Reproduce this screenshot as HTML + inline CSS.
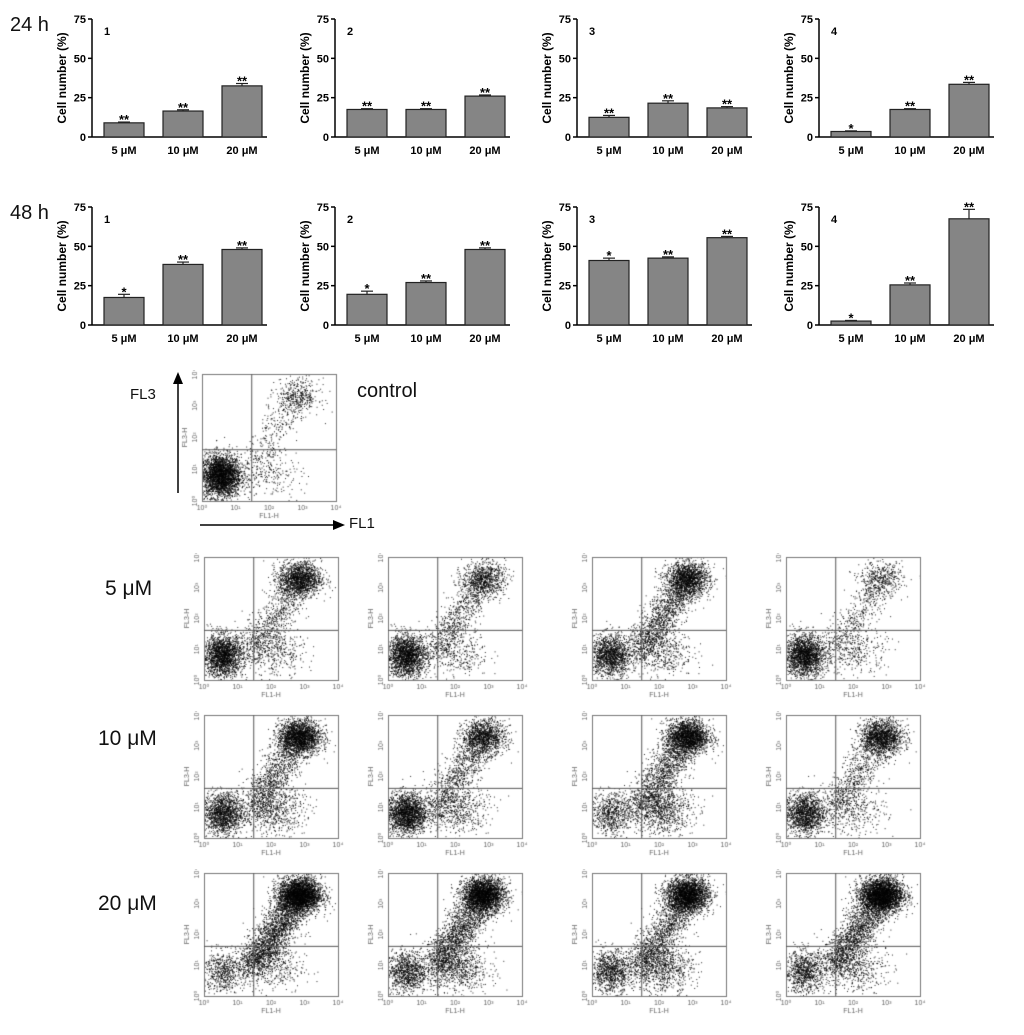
<!DOCTYPE html>
<html><head><meta charset="utf-8">
<style>
body{margin:0;background:#fff;font-family:"Liberation Sans",sans-serif;}
#wrap{position:relative;width:1024px;height:1035px;overflow:hidden;}
.lbl{position:absolute;font-size:20px;color:#111;}
canvas{position:absolute;}
</style></head>
<body>
<div id="wrap">
<svg id="bars" width="1024" height="350" style="position:absolute;left:0;top:0"></svg>
<div class="lbl" style="left:10px;top:14px">24 h</div>
<div class="lbl" style="left:10px;top:202px">48 h</div>
<div class="lbl" style="left:357px;top:380px">control</div>
<div class="lbl" style="left:130px;top:386px;font-size:15px">FL3</div>
<div class="lbl" style="left:349px;top:515px;font-size:15px">FL1</div>
<div class="lbl" style="left:105px;top:577px;font-size:21px">5 μM</div>
<div class="lbl" style="left:98px;top:727px;font-size:21px">10 μM</div>
<div class="lbl" style="left:98px;top:892px;font-size:21px">20 μM</div>
<svg width="1024" height="1035" style="position:absolute;left:0;top:0;pointer-events:none">
<line x1="178" y1="493" x2="178" y2="382" stroke="#000" stroke-width="1.5"/>
<polygon points="178,372 173,384 183,384" fill="#000"/>
<line x1="200" y1="525" x2="335" y2="525" stroke="#000" stroke-width="1.5"/>
<polygon points="345,525 333,520 333,530" fill="#000"/>
</svg>
</div>
<script>
// ---- bar chart data ----
const categories=["5 μM","10 μM","20 μM"];
const yTicks=[0,25,50,75];
const v24_1=[9,16.5,32.5], e24_1=[0.5,0.8,1.5], s24_1=["**","**","**"];
const v24_2=[17.5,17.5,26], e24_2=[0.5,0.5,0.7], s24_2=["**","**","**"];
const v24_3=[12.5,21.5,18.5], e24_3=[1.2,1.5,0.8], s24_3=["**","**","**"];
const v24_4=[3.5,17.5,33.5], e24_4=[0.4,0.5,1.2], s24_4=["*","**","**"];
const v48_1=[17.5,38.5,48], e48_1=[2,1.5,1], s48_1=["*","**","**"];
const v48_2=[19.5,27,48], e48_2=[2,1,1], s48_2=["*","**","**"];
const v48_3=[41,42.5,55.5], e48_3=[1.5,0.8,0.8], s48_3=["*","**","**"];
const v48_4=[2.5,25.5,67.5], e48_4=[0.4,1.2,6], s48_4=["*","**","**"];
const panelNums=["1","2","3","4"];

const NS="http://www.w3.org/2000/svg";
const svg=document.getElementById('bars');
function mk(t,a,p){const e=document.createElementNS(NS,t);for(const k in a)e.setAttribute(k,a[k]);(p||svg).appendChild(e);return e;}
function barChart(ax,top,vals,errs,stars,num,id){
  const g=mk('g',{});
  
  
  const bottom=top+118;
  const y=v=>bottom-v/75*118;
  const xb=i=>ax+12+i*59;
  mk('line',{x1:ax,y1:top,x2:ax,y2:bottom,stroke:'#000','stroke-width':1.5},g);
  mk('line',{x1:ax,y1:bottom,x2:ax+175,y2:bottom,stroke:'#000','stroke-width':1.5},g);
  yTicks.forEach(t=>{mk('line',{x1:ax-4,y1:y(t),x2:ax,y2:y(t),stroke:'#000','stroke-width':1.5},g);
    const tx=mk('text',{x:ax-6,y:y(t)+4,'text-anchor':'end','font-size':11,'font-weight':'bold'},g);tx.textContent=t;});
  const yl=mk('text',{x:ax-26,y:top+59,'text-anchor':'middle','font-size':12,'font-weight':'bold',transform:`rotate(-90 ${ax-26} ${top+59})`},g);yl.textContent="Cell number (%)";
  const n=mk('text',{x:ax+12,y:top+16,'font-size':11,'font-weight':'bold'},g);n.textContent=num;
  vals.forEach((v,i)=>{
    const r=mk('rect',{x:xb(i),y:y(v),width:40,height:bottom-y(v),fill:'#858585',stroke:'#222','stroke-width':1.2},g);
    
    
    const cx=xb(i)+20, et=y(v+errs[i]);
    mk('line',{x1:cx,y1:y(v),x2:cx,y2:et,stroke:'#222','stroke-width':1.2},g);
    mk('line',{x1:cx-6,y1:et,x2:cx+6,y2:et,stroke:'#222','stroke-width':1.2},g);
    const s=mk('text',{x:cx,y:et+2,'text-anchor':'middle','font-size':13,'font-weight':'bold'},g);s.textContent=stars[i];
    const c=mk('text',{x:cx,y:bottom+17,'text-anchor':'middle','font-size':11,'font-weight':'bold'},g);c.textContent=categories[i];
  });
}
const axX=[92,335,577,819];
[[v24_1,e24_1,s24_1],[v24_2,e24_2,s24_2],[v24_3,e24_3,s24_3],[v24_4,e24_4,s24_4]].forEach((d,i)=>barChart(axX[i],19,d[0],d[1],d[2],panelNums[i],'24h-'+(i+1)));
[[v48_1,e48_1,s48_1],[v48_2,e48_2,s48_2],[v48_3,e48_3,s48_3],[v48_4,e48_4,s48_4]].forEach((d,i)=>barChart(axX[i],207,d[0],d[1],d[2],panelNums[i],'48h-'+(i+1)));

// ---- flow cytometry population sizes: [live, dead, streak, lowerRight] ----
const flowControl=[3000,400,300,200];
const flow5=[[2000,1500,800,400],[2000,800,800,300],[1500,1500,1500,400],[2000,400,500,300]];
const flow10=[[1500,2000,1200,600],[2000,1200,1000,500],[700,2000,1500,800],[1500,1500,800,300]];
const flow20=[[600,3000,2500,300],[1000,2500,2000,700],[1000,2500,1500,800],[900,3000,2000,400]];

let seed=12345;
function rnd(){seed=(seed*1103515245+12345)&0x7fffffff;return seed/0x7fffffff;}
function gau(){let u=rnd()||1e-6,v=rnd();return Math.sqrt(-2*Math.log(u))*Math.cos(6.283*v);}
const wrap=document.getElementById('wrap');
function flow(x0,y0,w,h,pop,id){
  const pad=26;
  const cv=document.createElement('canvas');
  cv.width=w+pad+6;cv.height=h+pad;
  cv.style.left=(x0-pad)+'px';cv.style.top=y0-4+'px';
  
  
  wrap.appendChild(cv);
  const c=cv.getContext('2d');
  const ox=pad,oy=4;
  const X=v=>ox+Math.max(0,Math.min(4,v))/4*w, Y=v=>oy+h-Math.max(0,Math.min(4,v))/4*h;
  c.fillStyle='rgba(0,0,0,0.85)';
  function dot(a,b){c.fillRect(X(a),Y(b),1,1);}
  for(let i=0;i<pop[0];i++)dot(0.55+gau()*0.3,0.8+gau()*0.34);
  for(let i=0;i<pop[1];i++)dot(2.85+gau()*0.32,3.3+gau()*0.28);
  for(let i=0;i<pop[2];i++){const t=rnd();dot(1.4+t*1.45+gau()*0.27,0.9+t*2.4+gau()*0.27);}
  for(let i=0;i<pop[3];i++)dot(2.1+gau()*0.45,0.9+gau()*0.4);
  c.strokeStyle='#777';c.lineWidth=1;
  c.strokeRect(ox+0.5,oy+0.5,w,h);
  c.strokeStyle='#555';
  c.beginPath();c.moveTo(X(1.47)+0.5,oy);c.lineTo(X(1.47)+0.5,oy+h);
  c.moveTo(ox,Y(1.63)+0.5);c.lineTo(ox+w,Y(1.63)+0.5);c.stroke();
  c.fillStyle='#666';c.font='7px "Liberation Sans"';c.textAlign='center';
  for(let k=0;k<=4;k++){c.fillText('10'+['⁰','¹','²','³','⁴'][k],X(k),oy+h+9);
    c.save();c.translate(ox-5,Y(k));c.rotate(-Math.PI/2);c.fillText('10'+['⁰','¹','²','³','⁴'][k],0,0);c.restore();}
  c.fillText('FL1-H',ox+w/2,oy+h+17);
  c.save();c.translate(ox-15,oy+h/2);c.rotate(-Math.PI/2);c.fillText('FL3-H',0,0);c.restore();
}
flow(202,374,134,127,flowControl,'control');
const colX=[204,388,592,786], rowY=[557,715,873], W=134,H=123;
[flow5,flow10,flow20].forEach((row,r)=>row.forEach((p,ci)=>flow(colX[ci],rowY[r],W,H,p,['5um','10um','20um'][r]+'-'+(ci+1))));
</script>
</body></html>
